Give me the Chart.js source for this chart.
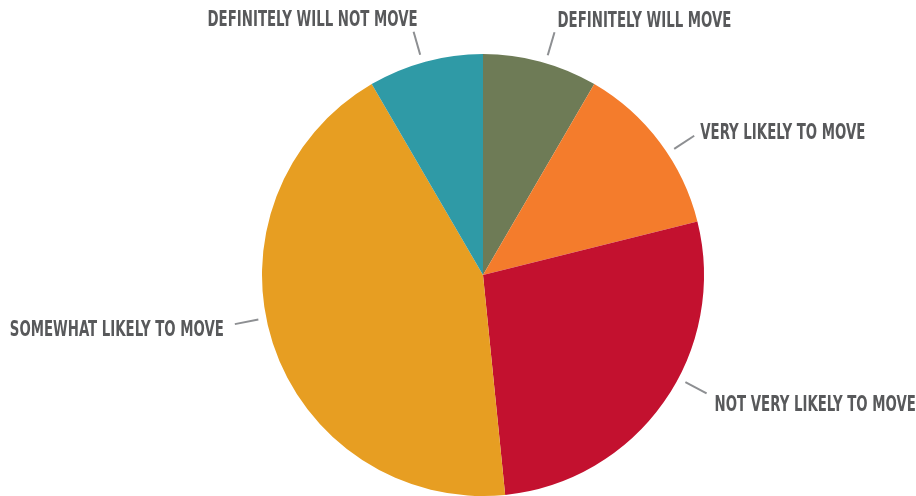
<!DOCTYPE html>
<html>
<head>
<meta charset="utf-8">
<script src="https://cdn.jsdelivr.net/npm/chart.js@4"></script>
<style>
  html, body { margin: 0; padding: 0; background: #fff; }
  #wrap { width: 916px; height: 496px; }
</style>
</head>
<body>
<div id="wrap"><canvas id="moveChart" width="916" height="496"></canvas></div>
<script>
// likelihood of moving, share of respondents (%)
var categories = [
    'DEFINITELY WILL MOVE',
    'VERY LIKELY TO MOVE',
    'NOT VERY LIKELY TO MOVE',
    'SOMEWHAT LIKELY TO MOVE',
    'DEFINITELY WILL NOT MOVE'
];
var shares = [8.4, 12.7, 27.3, 43.2, 8.4];
var sliceColors = ['#6e7b56', '#f47c2c', '#c3112f', '#e79e22', '#2f9aa6'];

// where each callout sits relative to its slice
var callouts = [
    { nudge: 1.3,  align: 'left',  dx: 3,   dy: -11 },
    { nudge: 3.5,  align: 'left',  dx: 6,   dy: -2 },
    { nudge: -7.2, align: 'left',  dx: 8,   dy: 12 },
    { nudge: 6.8,  align: 'right', dx: -11, dy: 6 },
    { nudge: -0.8, align: 'right', dx: 4,   dy: -11 }
];

var labelFont = 'bold 22px "DejaVu Sans Condensed", "DejaVu Sans", sans-serif';

var calloutPlugin = {
    id: 'callouts',
    afterDatasetsDraw: function(chart) {
        var ctx = chart.ctx;
        var meta = chart.getDatasetMeta(0);
        ctx.save();
        ctx.font = labelFont;
        // squeeze the labels into a tight condensed face
        var sx = 214 / ctx.measureText('SOMEWHAT LIKELY TO MOVE').width;
        meta.data.forEach(function(arc, i) {
            var c = callouts[i];
            var a = (arc.startAngle + arc.endAngle) / 2 + c.nudge * Math.PI / 180;
            var r = arc.outerRadius;
            var x1 = arc.x + Math.cos(a) * (r + 8), y1 = arc.y + Math.sin(a) * (r + 8);
            var x2 = arc.x + Math.cos(a) * (r + 32), y2 = arc.y + Math.sin(a) * (r + 32);
            ctx.strokeStyle = '#8d8f92';
            ctx.lineWidth = 2;
            ctx.beginPath();
            ctx.moveTo(x1, y1);
            ctx.lineTo(x2, y2);
            ctx.stroke();

            ctx.fillStyle = '#58595b';
            ctx.textBaseline = 'middle';
            ctx.textAlign = c.align;
            ctx.save();
            ctx.translate(x2 + c.dx, y2 + c.dy);
            ctx.scale(sx, 1);
            ctx.fillText(chart.data.labels[i], 0, 0);
            ctx.restore();
        });
        ctx.restore();
    }
};

var ctx = document.getElementById('moveChart').getContext('2d');
window.moveChart = new Chart(ctx, {
    type: 'pie',
    data: {
        labels: categories,
        datasets: [{
            data: shares,
            backgroundColor: sliceColors,
            borderWidth: 0
        }]
    },
    options: {
        responsive: false,
        animation: false,
        layout: {
            padding: { top: 54, bottom: 0, left: 262, right: 212 }
        },
        plugins: {
            legend: { display: false },
            tooltip: { enabled: false }
        }
    },
    plugins: [calloutPlugin]
});
</script>
</body>
</html>
